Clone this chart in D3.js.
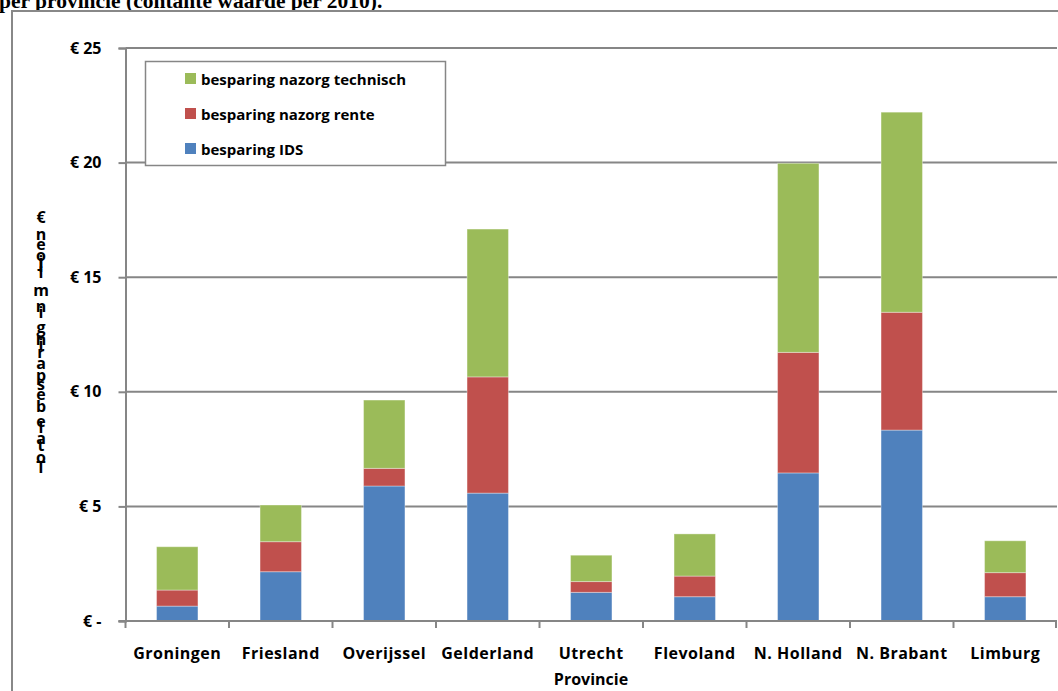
<!DOCTYPE html>
<html>
<head>
<meta charset="utf-8">
<script src="https://cdn.jsdelivr.net/npm/d3@7"></script>
<style>
  html, body { margin: 0; padding: 0; background: #fff; overflow: hidden; }
  svg { display: block; }
</style>
</head>
<body>
<svg id="chart" width="1058" height="691"></svg>
<script>
// Provinces and savings per component (mln €, present value per 2010)
const provinces = ["Groningen", "Friesland", "Overijssel", "Gelderland", "Utrecht",
                   "Flevoland", "N. Holland", "N. Brabant", "Limburg"];
const besparingIDS       = [0.65, 2.15, 5.89, 5.58, 1.25, 1.06, 6.46, 8.33, 1.06];
const besparingRente     = [0.70, 1.31, 0.77, 5.07, 0.47, 0.90, 5.26, 5.14, 1.05];
const besparingTechnisch = [1.89, 1.60, 2.98, 6.45, 1.15, 1.84, 8.25, 8.73, 1.39];
const seriesNames = ["besparing IDS", "besparing nazorg rente", "besparing nazorg technisch"];
const seriesColors = ["#4F81BD", "#C0504D", "#9BBB59"];
const yTicks = [0, 5, 10, 15, 20, 25];
const titleText = "per provincie (contante waarde per 2010).";
const yAxisTitle = "Totale besparing in miljoen €";
const xAxisTitle = "Provincie";

const table = provinces.map((p, i) => ({
  provincie: p,
  ids: besparingIDS[i],
  rente: besparingRente[i],
  technisch: besparingTechnisch[i]
}));
const keys = ["ids", "rente", "technisch"];

const svg = d3.select("#chart");
const font = "'Open Sans', 'DejaVu Sans', sans-serif";
const grey = "#868686";

// Page title (top part of the sheet above the chart frame)
svg.append("text")
  .attr("x", -1).attr("y", 8)
  .attr("font-family", "'Liberation Serif', 'Times New Roman', serif")
  .attr("font-weight", "bold")
  .attr("font-size", 21.5)
  .text(titleText);

// Chart frame
svg.append("rect")
  .attr("x", 12).attr("y", 11).attr("width", 1060).attr("height", 700)
  .attr("fill", "#fff").attr("stroke", "#888").attr("stroke-width", 2);

const plot = { left: 125.5, right: 1057, top: 48, bottom: 621 };

const x = d3.scaleBand().domain(provinces).range([plot.left, plot.right]);
const y = d3.scaleLinear().domain([0, 25]).range([plot.bottom, plot.top]);

// Horizontal gridlines
svg.append("g").selectAll("line")
  .data(yTicks.filter(t => t > 0))
  .join("line")
  .attr("x1", plot.left).attr("x2", plot.right)
  .attr("y1", d => y(d)).attr("y2", d => y(d))
  .attr("stroke", grey).attr("stroke-width", 2);

// Y axis
const yAxis = d3.axisLeft(y)
  .tickValues(yTicks)
  .tickSize(7)
  .tickPadding(17)
  .tickFormat(d => d === 0 ? "€ -" : "€ " + d);
const gy = svg.append("g").attr("transform", `translate(${plot.left},0)`).call(yAxis);
gy.select(".domain").attr("stroke", grey).attr("stroke-width", 2);
gy.selectAll(".tick line").attr("stroke", grey).attr("stroke-width", 2);
gy.selectAll(".tick text")
  .attr("font-family", font).attr("font-weight", "bold").attr("font-size", 16)
  .attr("fill", "#000");

// Stacked bars
const stacked = d3.stack().keys(keys)(table);
const barW = x.bandwidth() * 0.4;
svg.append("g").selectAll("g")
  .data(stacked)
  .join("g")
  .attr("fill", (d, i) => seriesColors[i])
  .selectAll("rect")
  .data(d => d)
  .join("rect")
  .attr("x", d => x(d.data.provincie) + (x.bandwidth() - barW) / 2)
  .attr("width", barW)
  .attr("y", d => y(d[1]))
  .attr("height", d => y(d[0]) - y(d[1]))
  .attr("stroke", "rgba(255,255,255,0.35)")
  .attr("stroke-width", 1);

// X axis with ticks between categories
const gx = svg.append("g");
gx.append("line")
  .attr("x1", plot.left - 7).attr("x2", plot.right)
  .attr("y1", plot.bottom).attr("y2", plot.bottom)
  .attr("stroke", grey).attr("stroke-width", 2);
const boundaries = provinces.map(p => x(p)).concat([plot.right - 1]);
gx.selectAll("line.tick")
  .data(boundaries)
  .join("line")
  .attr("class", "tick")
  .attr("x1", d => d).attr("x2", d => d)
  .attr("y1", plot.bottom).attr("y2", plot.bottom + 7)
  .attr("stroke", grey).attr("stroke-width", 2);
gx.selectAll("text")
  .data(provinces)
  .join("text")
  .attr("x", d => x(d) + x.bandwidth() / 2)
  .attr("y", 659)
  .attr("text-anchor", "middle")
  .attr("font-family", font).attr("font-weight", "bold").attr("font-size", 16)
  .attr("letter-spacing", 0.5)
  .text(d => d);

// X axis title
svg.append("text")
  .attr("x", 591).attr("y", 685)
  .attr("text-anchor", "middle")
  .attr("font-family", font).attr("font-weight", "bold").attr("font-size", 16)
  .text(xAxisTitle);

// Y axis title: upright glyphs stacked bottom-to-top, each advancing by its own width
const yTitle = svg.append("g")
  .attr("font-family", font).attr("font-weight", "bold").attr("font-size", 16);
const chars = Array.from(yAxisTitle);
const probe = yTitle.append("text").attr("x", -100).attr("y", -100);
const adv = chars.map(c => {
  probe.text(c === " " ? "\u00a0" : c);
  return probe.node().getComputedTextLength();
});
probe.remove();
const total = d3.sum(adv.slice(0, -1));
const yBottom = 468, yTop = 218;
const k = (yBottom - yTop) / total;
let pos = yBottom;
chars.forEach((c, i) => {
  if (c !== " ") {
    yTitle.append("text")
      .attr("x", 41).attr("y", pos + 5)
      .attr("text-anchor", "middle")
      .text(c);
  }
  pos -= adv[i] * k;
});

// Legend
const legend = svg.append("g");
legend.append("rect")
  .attr("x", 145.5).attr("y", 61.5).attr("width", 300).attr("height", 104)
  .attr("fill", "#fff").attr("stroke", grey).attr("stroke-width", 1.5);
const legendOrder = [2, 1, 0];
legendOrder.forEach((s, i) => {
  const cy = 79 + i * 35;
  legend.append("rect")
    .attr("x", 185).attr("y", cy - 6).attr("width", 11).attr("height", 11)
    .attr("fill", seriesColors[s]);
  legend.append("text")
    .attr("x", 201).attr("y", cy + 5.5)
    .attr("font-family", font).attr("font-weight", "bold").attr("font-size", 15)
    .text(seriesNames[s]);
});
</script>
</body>
</html>
